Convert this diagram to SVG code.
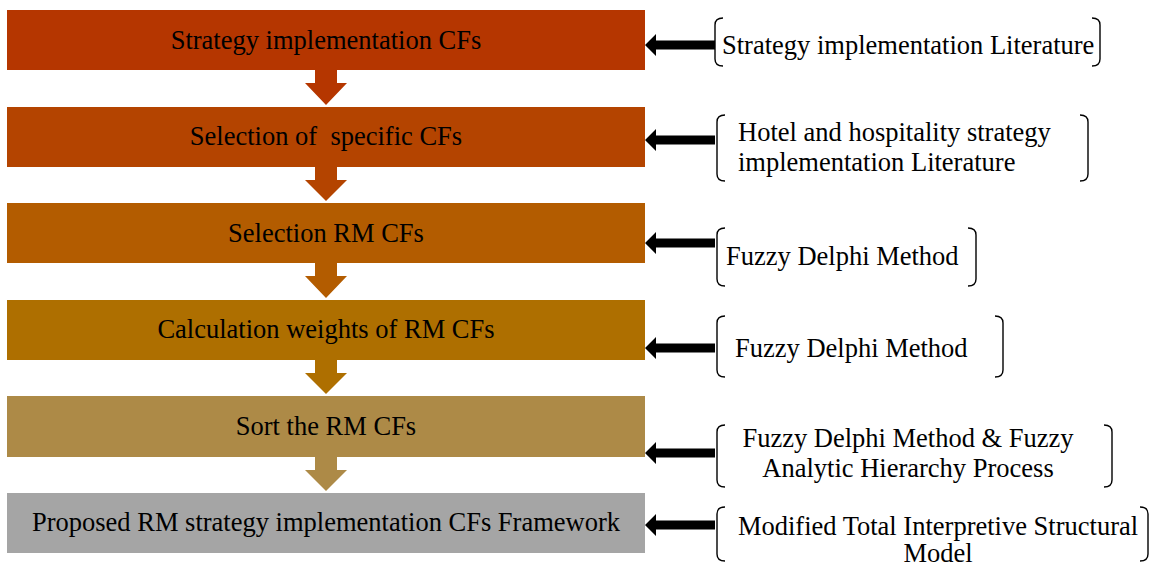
<svg xmlns="http://www.w3.org/2000/svg" width="1154" height="567" viewBox="0 0 1154 567">
  <defs>
    <style>
      text { font-family: "Liberation Serif", "Times New Roman", serif; font-size: 26.5px; fill: #000; }
      .mid { text-anchor: middle; }
      .brace { fill: none; stroke: #000; stroke-width: 1.4; }
      .feed { fill: #000; }
    </style>
    <!-- left-pointing block arrow, tip at origin -->
    <path id="feedArrow" d="M0,0 L11,-11 L11,-4.5 L70,-4.5 L70,4.5 L11,4.5 L11,11 Z"/>
  </defs>

  <rect width="1154" height="567" fill="#fff"/>

  <!-- process steps -->
  <g id="step1">
    <rect x="7" y="10" width="638" height="60" fill="#B53600"/>
    <text class="mid" x="326" y="49">Strategy implementation CFs</text>
  </g>
  <g id="step2">
    <rect x="7" y="107" width="638" height="60" fill="#B44400"/>
    <text class="mid" x="326" y="145" style="white-space:pre">Selection of  specific CFs</text>
  </g>
  <g id="step3">
    <rect x="7" y="203" width="638" height="60" fill="#B35C00"/>
    <text class="mid" x="326" y="242">Selection RM CFs</text>
  </g>
  <g id="step4">
    <rect x="7" y="300" width="638" height="60" fill="#AE6F00"/>
    <text class="mid" x="326" y="338">Calculation weights of RM CFs</text>
  </g>
  <g id="step5">
    <rect x="7" y="396" width="638" height="61" fill="#AD8A47"/>
    <text class="mid" x="326" y="435">Sort the RM CFs</text>
  </g>
  <g id="step6">
    <rect x="7" y="493" width="638" height="60" fill="#A5A5A5"/>
    <text class="mid" x="326" y="531">Proposed RM strategy implementation CFs Framework</text>
  </g>

  <!-- sources -->
  <g id="source1">
    <path class="brace" d="M723,18 Q715,18 715,25 L715,59 Q715,66 723,66"/>
    <path class="brace" d="M1092,18 Q1100,18 1100,25 L1100,59 Q1100,66 1092,66"/>
    <text x="722" y="54">Strategy implementation Literature</text>
  </g>
  <g id="source2">
    <path class="brace" d="M725,115 Q717,115 717,122 L717,174 Q717,181 725,181"/>
    <path class="brace" d="M1080,115 Q1088,115 1088,122 L1088,174 Q1088,181 1080,181"/>
    <text x="738" y="141">Hotel and hospitality strategy</text>
    <text x="738" y="171">implementation Literature</text>
  </g>
  <g id="source3">
    <path class="brace" d="M725,228 Q717,228 717,235 L717,279 Q717,286 725,286"/>
    <path class="brace" d="M968,228 Q976,228 976,235 L976,279 Q976,286 968,286"/>
    <text x="726" y="265">Fuzzy Delphi Method</text>
  </g>
  <g id="source4">
    <path class="brace" d="M725,316 Q717,316 717,323 L717,370 Q717,377 725,377"/>
    <path class="brace" d="M995,316 Q1003,316 1003,323 L1003,370 Q1003,377 995,377"/>
    <text x="735" y="357">Fuzzy Delphi Method</text>
  </g>
  <g id="source5">
    <path class="brace" d="M725,425 Q717,425 717,432 L717,480 Q717,487 725,487"/>
    <path class="brace" d="M1104,425 Q1112,425 1112,432 L1112,480 Q1112,487 1104,487"/>
    <text class="mid" x="908" y="447">Fuzzy Delphi Method &amp; Fuzzy</text>
    <text class="mid" x="908" y="477">Analytic Hierarchy Process</text>
  </g>
  <g id="source6">
    <path class="brace" d="M725,507 Q717,507 717,514 L717,554 Q717,561 725,561"/>
    <path class="brace" d="M1140,507 Q1148,507 1148,514 L1148,554 Q1148,561 1140,561"/>
    <text class="mid" x="938" y="535">Modified Total Interpretive Structural</text>
    <text class="mid" x="938" y="562">Model</text>
  </g>

  <!-- connectors -->
  <g id="connectors">
    <path fill="#B53600" d="M315,70 L337,70 L337,83 L347,83 L326,105 L305,83 L315,83 Z"/>
    <path fill="#B44400" d="M315,167 L337,167 L337,180 L347,180 L326,201 L305,180 L315,180 Z"/>
    <path fill="#B35C00" d="M315,263 L337,263 L337,276 L347,276 L326,298 L305,276 L315,276 Z"/>
    <path fill="#AE6F00" d="M315,360 L337,360 L337,373 L347,373 L326,394 L305,373 L315,373 Z"/>
    <path fill="#AD8A47" d="M315,457 L337,457 L337,470 L347,470 L326,491 L305,470 L315,470 Z"/>
    <use class="feed" href="#feedArrow" x="645" y="45"/>
    <use class="feed" href="#feedArrow" x="645" y="140"/>
    <use class="feed" href="#feedArrow" x="645" y="243"/>
    <use class="feed" href="#feedArrow" x="645" y="348"/>
    <use class="feed" href="#feedArrow" x="645" y="453"/>
    <use class="feed" href="#feedArrow" x="645" y="525"/>
  </g>
</svg>
